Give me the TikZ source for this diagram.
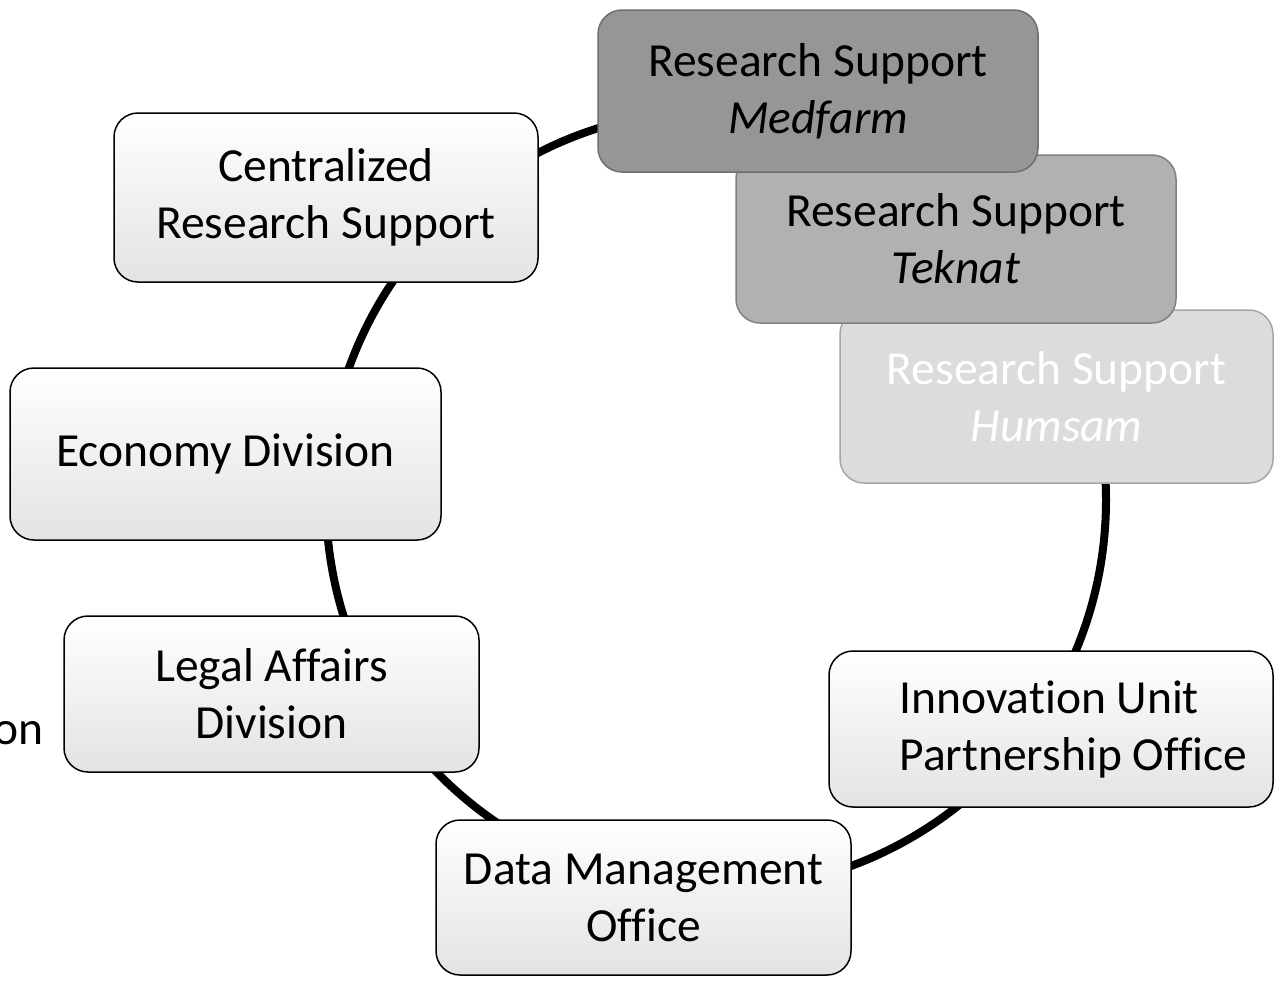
\documentclass[tikz,border=0pt]{standalone}
\usepackage{fontspec}
\setmainfont{Carlito}[Ligatures=NoCommon]
\usetikzlibrary{calc}
\definecolor{medgray}{HTML}{969696}
\definecolor{medline}{HTML}{6F6F6F}
\definecolor{tekgray}{HTML}{B1B1B1}
\definecolor{tekline}{HTML}{808080}
\definecolor{humgray}{HTML}{DCDCDC}
\definecolor{humline}{HTML}{A6A6A6}
\tikzset{
  unit/.style= {draw, line width=1.5pt, rounded corners=24pt, align=center,
                top color=white, bottom color=black!11, inner sep=0pt},
  rsmed/.style= {draw=medline, line width=1.5pt, rounded corners=24pt, align=center,
                fill=medgray, inner sep=0pt},
  rstek/.style= {draw=tekline, line width=1.5pt, rounded corners=24pt, align=center,
                fill=tekgray, inner sep=0pt},
  rshum/.style= {draw=humline, line width=1.5pt, rounded corners=24pt, align=center,
                fill=humgray, text=white, inner sep=0pt},
}

\begin{document}
\begin{tikzpicture}[x=1pt, y=-1pt, font=\fontsize{47.5}{57}\selectfont]
  \useasboundingbox (0,0) rectangle (1281,980);
  \coordinate (hub) at (716,500);
  \draw [line width=8pt] (hub) circle [radius=390pt];

  \node [unit, minimum width=424pt, minimum height=169pt] (central) at (326,197.5) {Centralized\\Research Support};
  \node [unit, minimum width=431pt, minimum height=172pt] (econ) at (225.5,454) {Economy Division};
  \node [unit, minimum width=415pt, minimum height=156pt] (legal) at (271.5,694) {Legal Affairs\\Division};
  \node [unit, minimum width=415pt, minimum height=155pt] (data) at (643.5,897.5) {Data Management\\Office};
  \node [unit, minimum width=444pt, minimum height=156pt] (innov) at (1051,729) {};
  \node [anchor=west, align=left, inner sep=0pt] (innovtext) at ($(innov.west)+(71,0)$) {Innovation Unit\\Partnership Office};
  \node [anchor=east, inner sep=0pt] (clipped) at (44,733) {on};

  \node [rshum, minimum width=433pt, minimum height=173pt] (humsam) at (1056.5,396.5) {Research Support\\\textit{Humsam}};
  \node [rstek, minimum width=440pt, minimum height=168pt] (teknat) at (956,239) {Research Support\\\textit{Teknat}};
  \node [rsmed, minimum width=440pt, minimum height=162pt] (medfarm) at (818,91) {Research Support\\\textit{Medfarm}};
\end{tikzpicture}
\end{document}
